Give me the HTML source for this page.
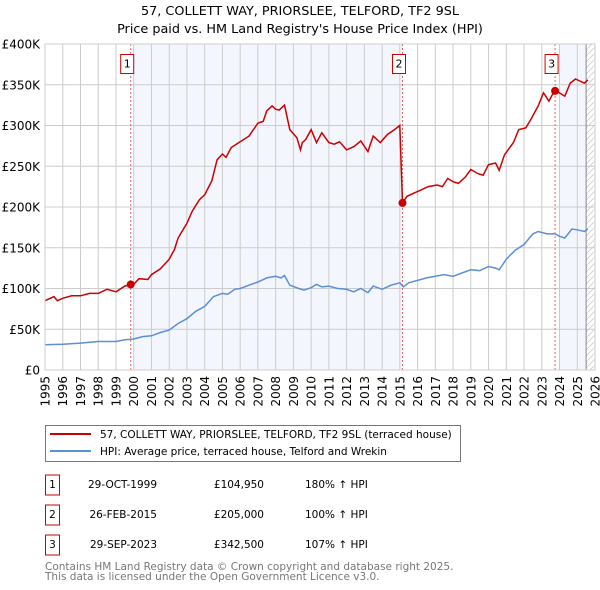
<!DOCTYPE html>
<html><head><meta charset="utf-8"><style>
body{margin:0;background:#fff;}
svg{display:block;font-family:"DejaVu Sans","Liberation Sans",sans-serif;}
</style></head><body>
<svg id="chart" width="600" height="590" viewBox="0 0 600 590">
<text x="300" y="15" text-anchor="middle" font-size="12.8">57, COLLETT WAY, PRIORSLEE, TELFORD, TF2 9SL</text>
<text x="300" y="33" text-anchor="middle" font-size="12.8">Price paid vs. HM Land Registry's House Price Index (HPI)</text>
<g id="plot"></g>
<g>
<rect x="45.5" y="425.5" width="415" height="36" fill="#fff" stroke="#777"/>
<line x1="50" y1="434" x2="91" y2="434" stroke="#cc0000" stroke-width="2"/>
<text x="100" y="438" font-size="10.5">57, COLLETT WAY, PRIORSLEE, TELFORD, TF2 9SL (terraced house)</text>
<line x1="50" y1="451" x2="91" y2="451" stroke="#5b8fd6" stroke-width="2"/>
<text x="100" y="455" font-size="10.5">HPI: Average price, terraced house, Telford and Wrekin</text>
</g>
<g id="table" font-size="10.5"></g>
<text x="45" y="570" font-size="10.5" fill="#777">Contains HM Land Registry data © Crown copyright and database right 2025.</text>
<text x="45" y="580" font-size="10.5" fill="#777">This data is licensed under the Open Government Licence v3.0.</text>
</svg>
<script>
const priceYears=[1995,1995.5,1995.7,1996,1996.5,1997,1997.5,1998,1998.5,1999,1999.5,1999.83,2000,2000.3,2000.8,2001,2001.5,2002,2002.3,2002.5,2003,2003.3,2003.7,2004,2004.4,2004.7,2005,2005.2,2005.5,2006,2006.5,2007,2007.3,2007.5,2007.8,2008,2008.2,2008.5,2008.8,2009.2,2009.4,2009.5,2009.7,2010,2010.3,2010.6,2011,2011.3,2011.6,2012,2012.4,2012.8,2013.2,2013.5,2013.9,2014.3,2014.7,2015,2015.15,2015.4,2015.8,2016.2,2016.6,2017.1,2017.4,2017.7,2018,2018.3,2018.7,2019,2019.4,2019.7,2020,2020.4,2020.6,2020.9,2021.4,2021.7,2022.1,2022.4,2022.8,2023.1,2023.4,2023.6,2023.75,2024,2024.3,2024.6,2024.9,2025.2,2025.4,2025.6];
const priceValues=[85,90,85,88,91,91,94,94,99,96,103,105,105,112,111,117,124,136,148,162,180,195,209,215,232,258,265,261,273,280,287,303,305,318,324,320,319,325,295,285,270,279,283,295,279,291,279,277,280,270,274,281,268,287,279,289,295,300,205,213,217,221,225,227,225,235,231,229,237,246,241,239,252,254,245,264,279,295,297,308,324,340,330,338,342.5,340,336,352,357,354,352,356];
const hpiYears=[1995,1996,1997,1998,1999,1999.5,2000,2000.5,2001,2001.5,2002,2002.5,2003,2003.5,2004,2004.5,2005,2005.3,2005.7,2006,2006.5,2007,2007.5,2008,2008.3,2008.5,2008.8,2009.3,2009.6,2010,2010.3,2010.6,2011,2011.5,2012,2012.4,2012.8,2013.2,2013.5,2014,2014.5,2015,2015.2,2015.5,2016,2016.5,2017,2017.5,2018,2018.5,2019,2019.5,2020,2020.4,2020.6,2021,2021.5,2022,2022.5,2022.8,2023.3,2023.75,2024,2024.3,2024.7,2025,2025.4,2025.6];
const hpiValues=[31,31.5,33,35,35,37,38,41,42,46,49,57,63,72,78,90,94,93,99,100,104,108,113,115,113,116,104,100,98,101,105,102,103,100,99,96,100,95,103,99,104,107,102,107,110,113,115,117,115,119,123,122,127,125,123,136,147,154,167,170,167,167,164,162,173,172,170,173];
const saleYears=[1999.83,2015.15,2023.75];
const saleValues=[104.95,205,342.5];
const saleLabels=["1","2","3"];
const saleDates=["29-OCT-1999","26-FEB-2015","29-SEP-2023"];
const salePrices=["£104,950","£205,000","£342,500"];
const saleHpi=["180% ↑ HPI","100% ↑ HPI","107% ↑ HPI"];
const yTicks=[0,50,100,150,200,250,300,350,400];
const yTickLabels=["£0","£50K","£100K","£150K","£200K","£250K","£300K","£350K","£400K"];
const xTicks=[1995,1996,1997,1998,1999,2000,2001,2002,2003,2004,2005,2006,2007,2008,2009,2010,2011,2012,2013,2014,2015,2016,2017,2018,2019,2020,2021,2022,2023,2024,2025,2026];

const NS="http://www.w3.org/2000/svg";
const L=45,R=595,T=44,B=370;
const xs=y=>L+(y-1995)/(2026-1995)*(R-L);
const ys=v=>B-v/400*(B-T);
const plot=document.getElementById('plot');
function mk(tag,attrs,parent){const e=document.createElementNS(NS,tag);for(const k in attrs)e.setAttribute(k,attrs[k]);(parent||plot).appendChild(e);return e;}

let e;
e=mk('rect',{x:xs(2000),y:T,width:xs(2015.15)-xs(2000),height:B-T,fill:'#f3f6fd'});


e=mk('rect',{x:xs(2024),y:T,width:xs(2025.5)-xs(2024),height:B-T,fill:'#f3f6fd'});


const defs=mk('defs',{});
const pat=mk('pattern',{id:'hatch',width:6,height:6,patternUnits:'userSpaceOnUse'},defs);
mk('path',{d:'M0,6 L6,0',stroke:'#ccc','stroke-width':0.8},pat);
e=mk('rect',{x:xs(2025.5),y:T,width:R-xs(2025.5),height:B-T,fill:'url(#hatch)'});



xTicks.forEach((t,i)=>{
 e=mk('line',{x1:xs(t),x2:xs(t),y1:T,y2:B,stroke:'#ccc','stroke-width':1});
 
 
 e=mk('text',{x:0,y:0,transform:`translate(${xs(t)+4.5},376) rotate(-90)`,'text-anchor':'end','font-size':12});
 e.textContent=t;
 
 
});
yTicks.forEach((t,i)=>{
 e=mk('line',{x1:L,x2:R,y1:ys(t),y2:ys(t),stroke:'#ccc','stroke-width':1});
 
 
 e=mk('text',{x:40,y:ys(t)+4.5,'text-anchor':'end','font-size':12});
 e.textContent=yTickLabels[i];
 
 
});
e=mk('line',{x1:xs(2025.5),x2:xs(2025.5),y1:T,y2:B,stroke:'#888','stroke-width':1});



saleYears.forEach((s,i)=>{
 e=mk('line',{x1:xs(s),x2:xs(s),y1:T,y2:B,stroke:'#e06666','stroke-width':1,'stroke-dasharray':'2,2'});
 
 
});
function path(xa,va){return xa.map((x,i)=>(i?'L':'M')+xs(x).toFixed(1)+','+ys(va[i]).toFixed(1)).join(' ');}
e=mk('path',{d:path(hpiYears,hpiValues),fill:'none',stroke:'#5b8fd6','stroke-width':1.5});


e=mk('path',{d:path(priceYears,priceValues),fill:'none',stroke:'#cc0000','stroke-width':1.5});


saleYears.forEach((s,i)=>{
 e=mk('circle',{cx:xs(s),cy:ys(saleValues[i]),r:4,fill:'#cc0000'});
 
 
 const g=mk('g',{});
 
 
 mk('rect',{x:xs(s)-10,y:54.5,width:13,height:19,fill:'#fff',stroke:'#cc0000'},g);
 const t=mk('text',{x:xs(s)-3.5,y:67.5,'text-anchor':'middle','font-size':11},g);
 t.textContent=saleLabels[i];
});
e=mk('rect',{x:L,y:T,width:R-L,height:B-T,fill:'none',stroke:'#ccc'});



const tbl=document.getElementById('table');
saleLabels.forEach((lab,i)=>{
 const y=485+i*30;
 const g=mk('g',{},tbl);
 
 
 mk('rect',{x:45.5,y:y-10,width:14,height:20,fill:'#fff',stroke:'#cc0000'},g);
 let t=mk('text',{x:52.5,y:y+3,'text-anchor':'middle'},g);t.textContent=lab;
 t=mk('text',{x:157,y:y+3,'text-anchor':'end'},g);t.textContent=saleDates[i];
 t=mk('text',{x:264,y:y+3,'text-anchor':'end'},g);t.textContent=salePrices[i];
 t=mk('text',{x:305,y:y+3},g);t.textContent=saleHpi[i];
});
</script>
</body></html>
